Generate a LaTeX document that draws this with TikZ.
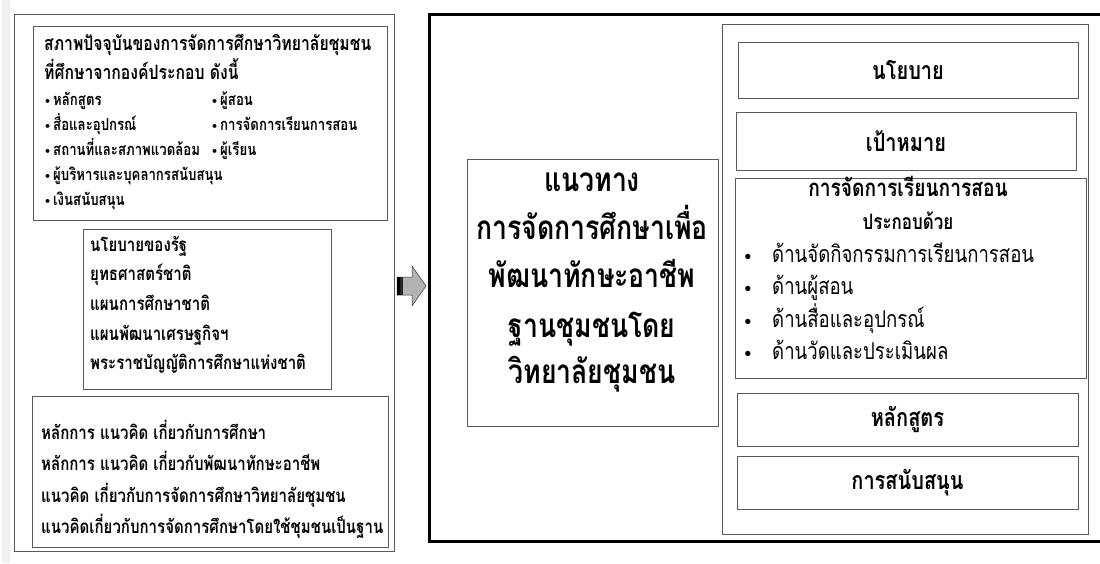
\documentclass[tikz,border=0pt]{standalone}
\usepackage{fontspec}
\newfontfamily\thaifont[Script=Thai,FakeStretch=0.8]{Loma}
\newfontfamily\dotfont{DejaVu Sans}
\newcommand{\bul}{{\dotfont\fontsize{11}{11}\selectfont\textbullet}\hspace{2pt}}
\newcommand{\fsHead}{\fontsize{19.7}{19.7}\selectfont}
\newcommand{\fsItem}{\fontsize{16.5}{16.5}\selectfont}
\newcommand{\fsList}{\fontsize{18.8}{18.8}\selectfont}
\newcommand{\fsBig}{\fontsize{33.3}{33.3}\selectfont}
\newcommand{\fsRight}{\fontsize{25}{25}\selectfont}
\newcommand{\fsTitle}{\fontsize{24}{24}\selectfont}
\newcommand{\fsSub}{\fontsize{21.2}{21.2}\selectfont}
\newcommand{\fsDot}{\fontsize{23.2}{23.2}\selectfont}
\begin{document}
\begin{tikzpicture}[x=1pt,y=-1pt,
  box/.style={draw=gray!70!black, line width=0.8pt, inner sep=0pt, outer sep=0pt, anchor=north west},
  txt/.style={inner sep=0pt, anchor=west, text height=0.5em, text depth=0pt, font=\thaifont\bfseries},
  ctxt/.style={inner sep=0pt, text height=0.5em, text depth=0pt, font=\thaifont\bfseries\fsBig}]
\useasboundingbox (0,0) rectangle (1100,563);
\fill [gray!12] (2,0) rectangle (10,563);
% left part
\node [box] (leftframe) [minimum width=380, minimum height=537] at (14,14) {};
\node [box] (state) [minimum width=354, minimum height=194] at (33,26) {};
\node [box] (policy) [minimum width=248, minimum height=160] at (83,229) {};
\node [box] (concept) [minimum width=356, minimum height=151] at (32,396) {};
\node [txt, font=\thaifont\bfseries\fsHead] (s1) at (44,48) {สภาพปัจจุบันของการจัดการศึกษาวิทยาลัยชุมชน};
\node [txt, font=\thaifont\bfseries\fsHead] (s2) at (44,77) {ที่ศึกษาจากองค์ประกอบ ดังนี้};
\node [txt, font=\thaifont\bfseries\fsItem] (s3) at (44,103) {\bul หลักสูตร};
\node [txt, font=\thaifont\bfseries\fsItem] (s4) at (44,128) {\bul สื่อและอุปกรณ์};
\node [txt, font=\thaifont\bfseries\fsItem] (s5) at (44,153) {\bul สถานที่และสภาพแวดล้อม};
\node [txt, font=\thaifont\bfseries\fsItem] (s6) at (44,178) {\bul ผู้บริหารและบุคลากรสนับสนุน};
\node [txt, font=\thaifont\bfseries\fsItem] (s7) at (44,203) {\bul เงินสนับสนุน};
\node [txt, font=\thaifont\bfseries\fsItem] (s8) at (211,103) {\bul ผู้สอน};
\node [txt, font=\thaifont\bfseries\fsItem] (s9) at (211,128) {\bul การจัดการเรียนการสอน};
\node [txt, font=\thaifont\bfseries\fsItem] (s10) at (211,153) {\bul ผู้เรียน};
\node [txt, font=\thaifont\bfseries\fsList] (p1) at (90,249) {นโยบายของรัฐ};
\node [txt, font=\thaifont\bfseries\fsList] (p2) at (90,278) {ยุทธศาสตร์ชาติ};
\node [txt, font=\thaifont\bfseries\fsList] (p3) at (90,308) {แผนการศึกษาชาติ};
\node [txt, font=\thaifont\bfseries\fsList] (p4) at (90,338) {แผนพัฒนาเศรษฐกิจฯ};
\node [txt, font=\thaifont\bfseries\fsList] (p5) at (90,367) {พระราชบัญญัติการศึกษาแห่งชาติ};
\node [txt, font=\thaifont\bfseries\fsList] (k1) at (41,437) {หลักการ แนวคิด เกี่ยวกับการศึกษา};
\node [txt, font=\thaifont\bfseries\fsList] (k2) at (41,468) {หลักการ แนวคิด เกี่ยวกับพัฒนาทักษะอาชีพ};
\node [txt, font=\thaifont\bfseries\fsList] (k3) at (41,500) {แนวคิด เกี่ยวกับการจัดการศึกษาวิทยาลัยชุมชน};
\node [txt, font=\thaifont\bfseries\fsList] (k4) at (41,531) {แนวคิดเกี่ยวกับการจัดการศึกษาโดยใช้ชุมชนเป็นฐาน};
% arrow
\fill [gray!60] (400,277) -- (412,277) -- (412,266) -- (426,286) -- (412,306) -- (412,295) -- (400,295) -- cycle;
\draw [gray!40!black, line width=0.5pt] (397,277) -- (412,277) -- (412,266) -- (426,286) -- (412,306) -- (412,295) -- (397,295) -- cycle;
\fill [black] (397,277) rectangle (400,295);
\fill [gray!30!black] (400,277) rectangle (403,295);
% right part
\draw [line width=3pt] (429,14) rectangle (1115,541);
\node [box] (guide) [minimum width=251, minimum height=267] at (467,159) {};
\node [ctxt] (g1) at (592,189) {แนวทาง};
\node [ctxt] (g2) at (592,237) {การจัดการศึกษาเพื่อ};
\node [ctxt] (g3) at (592,285) {พัฒนาทักษะอาชีพ};
\node [ctxt] (g4) at (592,335) {ฐานชุมชนโดย};
\node [ctxt] (g5) at (592,381) {วิทยาลัยชุมชน};
\node [box] (column) [minimum width=366, minimum height=510] at (722,24) {};
\node [box, font=\thaifont\bfseries\fsRight] (nyb) [minimum width=340, minimum height=56] at (738,42) {นโยบาย};
\node [box, font=\thaifont\bfseries\fsRight] (goal) [minimum width=340, minimum height=58] at (736,112) {เป้าหมาย};
\node [box] (teach) [minimum width=351, minimum height=200] at (735,178) {};
\node [box, font=\thaifont\bfseries\fsRight] (course) [minimum width=341, minimum height=53] at (737,393) {หลักสูตร};
\node [box, font=\thaifont\bfseries\fsRight] (support) [minimum width=341, minimum height=53] at (737,456) {การสนับสนุน};
\node [ctxt, font=\thaifont\bfseries\fsTitle] (t1) at (908,194) {การจัดการเรียนการสอน};
\node [ctxt, font=\thaifont\bfseries\fsSub] (t2) at (908,227) {ประกอบด้วย};
\node [txt, font=\dotfont\bfseries\fontsize{15}{15}\selectfont] (b1) at (743,260) {\textbullet};
\node [txt, font=\dotfont\bfseries\fontsize{15}{15}\selectfont] (b2) at (743,292) {\textbullet};
\node [txt, font=\dotfont\bfseries\fontsize{15}{15}\selectfont] (b3) at (743,325) {\textbullet};
\node [txt, font=\dotfont\bfseries\fontsize{15}{15}\selectfont] (b4) at (743,357) {\textbullet};
\node [txt, font=\thaifont\fsDot] (t3) at (772,260) {ด้านจัดกิจกรรมการเรียนการสอน};
\node [txt, font=\thaifont\fsDot] (t4) at (772,292) {ด้านผู้สอน};
\node [txt, font=\thaifont\fsDot] (t5) at (772,325) {ด้านสื่อและอุปกรณ์};
\node [txt, font=\thaifont\fsDot] (t6) at (772,357) {ด้านวัดและประเมินผล};
\end{tikzpicture}
\end{document}
